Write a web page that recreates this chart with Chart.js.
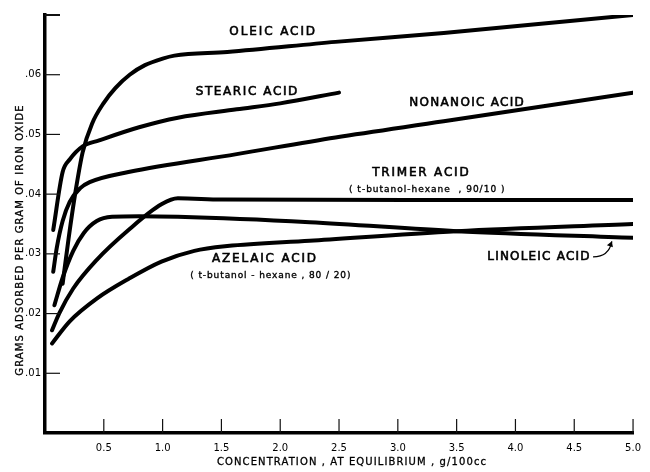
<!DOCTYPE html>
<html>
<head>
<meta charset="utf-8">
<script src="https://cdn.jsdelivr.net/npm/chart.js@4/dist/chart.umd.min.js"></script>
<style>
  html, body { margin: 0; padding: 0; background: #fff; }
  #wrap { width: 650px; height: 472px; }
</style>
</head>
<body>
<div id="wrap"><canvas id="chart"></canvas></div>
<script>
// concentration (g/100cc) vs grams adsorbed per gram of iron oxide
var oleicX = [0.15, 0.2, 0.26, 0.32, 0.4, 0.5, 0.6, 0.72, 0.85, 1.0, 1.1, 1.55, 2.47, 3.39, 5.0];
var oleicY = [0.025, 0.0325, 0.0405, 0.047, 0.0518, 0.0553, 0.0578, 0.060, 0.0616, 0.0627, 0.0632, 0.0638, 0.0655, 0.067, 0.070];

var stearicX = [0.07, 0.15, 0.21, 0.32, 0.46, 0.8, 1.13, 1.63, 2.0, 2.5];
var stearicY = [0.034, 0.0437, 0.0458, 0.048, 0.049, 0.0512, 0.0528, 0.0542, 0.0552, 0.057];

var nonanoicX = [0.07, 0.1, 0.15, 0.21, 0.3, 0.38, 0.71, 1.63, 2.47, 3.39, 5.0];
var nonanoicY = [0.027, 0.031, 0.0355, 0.0387, 0.041, 0.042, 0.0437, 0.0467, 0.0495, 0.0522, 0.057];

var trimerX = [0.06, 0.12, 0.24, 0.44, 0.71, 0.99, 1.13, 1.5, 3.08, 5.0];
var trimerY = [0.0172, 0.020, 0.0242, 0.029, 0.034, 0.0383, 0.0393, 0.0391, 0.039, 0.039];

var linoleicX = [0.08, 0.15, 0.24, 0.33, 0.44, 0.57, 0.8, 1.13, 2.25, 3.5, 5.0];
var linoleicY = [0.0214, 0.026, 0.0305, 0.0335, 0.0355, 0.0362, 0.0363, 0.0362, 0.0353, 0.0338, 0.0327];

var azelaicX = [0.06, 0.21, 0.44, 0.71, 0.99, 1.27, 1.55, 2.25, 3.5, 5.0];
var azelaicY = [0.015, 0.0187, 0.0225, 0.0258, 0.0287, 0.0305, 0.0313, 0.0322, 0.0338, 0.035];

var xTicks = [0.5, 1.0, 1.5, 2.0, 2.5, 3.0, 3.5, 4.0, 4.5, 5.0];
var yTicks = [0.01, 0.02, 0.03, 0.04, 0.05, 0.06, 0.07];

// curve labels, placed in data units
var labels = [
  { text: "OLEIC ACID", x: 1.94, y: 0.0672, size: 12, sp: 1.9 },
  { text: "STEARIC ACID", x: 1.72, y: 0.0572, size: 12, sp: 1.6 },
  { text: "NONANOIC ACID", x: 3.59, y: 0.0553, size: 12, sp: 1.3 },
  { text: "TRIMER ACID", x: 3.2, y: 0.0435, size: 12, sp: 1.8 },
  { text: "( t-butanol-hexane  , 90/10 )", x: 3.25, y: 0.0407, size: 9, sp: 1.0 },
  { text: "AZELAIC ACID", x: 1.87, y: 0.0292, size: 12, sp: 1.8 },
  { text: "( t-butanol - hexane , 80 / 20)", x: 1.92, y: 0.0263, size: 9, sp: 0.9 },
  { text: "LINOLEIC ACID", x: 4.2, y: 0.0295, size: 12, sp: 1.2 }
];

function pts(xs, ys) {
  return xs.map(function(v, i) { return { x: v, y: ys[i] }; });
}

function line(data) {
  return {
    data: data,
    borderColor: "#000",
    borderWidth: 4,
    borderCapStyle: "round",
    pointRadius: 0,
    fill: false,
    cubicInterpolationMode: "monotone"
  };
}

var decor = {
  id: "decor",
  afterDraw: function(chart) {
    var ctx = chart.ctx;
    var xs = chart.scales.x, ys = chart.scales.y;
    var area = chart.chartArea;
    ctx.save();
    ctx.strokeStyle = "#111";
    // inward ticks
    ctx.lineWidth = 1.2;
    xTicks.forEach(function(v) {
      var px = xs.getPixelForValue(v);
      ctx.beginPath();
      ctx.moveTo(px, area.bottom);
      ctx.lineTo(px, area.bottom - 14);
      ctx.stroke();
    });
    yTicks.forEach(function(v) {
      var py = ys.getPixelForValue(v);
      ctx.lineWidth = v > 0.065 ? 2 : 1.2;
      ctx.beginPath();
      ctx.moveTo(area.left, py);
      ctx.lineTo(area.left + 15, py);
      ctx.stroke();
    });

    // curve labels
    ctx.fillStyle = "#000";
    ctx.strokeStyle = "#000";
    ctx.textAlign = "center";
    ctx.textBaseline = "middle";
    labels.forEach(function(l) {
      ctx.font = l.size + "px 'DejaVu Sans'";
      ctx.letterSpacing = l.sp + "px";
      ctx.lineWidth = l.size > 10 ? 0.6 : 0.35;
      var px = xs.getPixelForValue(l.x), py = ys.getPixelForValue(l.y);
      ctx.fillText(l.text, px, py);
      ctx.strokeText(l.text, px, py);
    });

    // arrow from linoleic label to its curve
    var ax = xs.getPixelForValue(4.66), ay = ys.getPixelForValue(0.0295);
    var bx = xs.getPixelForValue(4.82), by = ys.getPixelForValue(0.0321);
    ctx.lineWidth = 1.2;
    ctx.beginPath();
    ctx.moveTo(ax, ay);
    ctx.quadraticCurveTo(bx - 3, ay, bx, by);
    ctx.stroke();
    ctx.beginPath();
    ctx.moveTo(bx, by);
    ctx.lineTo(bx - 5, by + 4);
    ctx.lineTo(bx + 1, by + 6);
    ctx.closePath();
    ctx.fill();

    // axis titles
    ctx.font = "10px 'DejaVu Sans'";
    ctx.lineWidth = 0.3;
    ctx.letterSpacing = "1.1px";
    ctx.fillText("CONCENTRATION , AT EQUILIBRIUM , g/100cc", 352, 462);
    ctx.strokeText("CONCENTRATION , AT EQUILIBRIUM , g/100cc", 352, 462);
    ctx.translate(20, 240);
    ctx.rotate(-Math.PI / 2);
    ctx.letterSpacing = "1.1px";
    ctx.fillText("GRAMS ADSORBED PER GRAM OF IRON OXIDE", 0, 0);
    ctx.strokeText("GRAMS ADSORBED PER GRAM OF IRON OXIDE", 0, 0);
    ctx.restore();
  }
};

new Chart(document.getElementById("chart").getContext("2d"), {
  type: "line",
  data: {
    datasets: [
      line(pts(oleicX, oleicY)),
      line(pts(stearicX, stearicY)),
      line(pts(nonanoicX, nonanoicY)),
      line(pts(trimerX, trimerY)),
      line(pts(linoleicX, linoleicY)),
      line(pts(azelaicX, azelaicY))
    ]
  },
  options: {
    responsive: true,
    maintainAspectRatio: false,
    animation: false,
    layout: { padding: { top: 15, right: 8, left: 0, bottom: 0 } },
    plugins: { legend: { display: false }, tooltip: { enabled: false } },
    scales: {
      x: {
        type: "linear",
        min: 0,
        max: 5,
        afterFit: function(s) { s.height = 39; },
        border: { display: true, color: "#000", width: 3.5 },
        grid: { drawOnChartArea: false, drawTicks: false },
        ticks: {
          stepSize: 0.5,
          padding: 9,
          color: "#000",
          font: { family: "'DejaVu Sans'", size: 10 },
          maxRotation: 0,
          callback: function(v) { return v === 0 ? "" : v.toFixed(1); }
        }
      },
      y: {
        min: 0,
        max: 0.07,
        afterFit: function(s) { s.width = 45; },
        border: { display: true, color: "#000", width: 3.5 },
        grid: { drawOnChartArea: false, drawTicks: false },
        ticks: {
          stepSize: 0.01,
          padding: 4,
          color: "#000",
          font: { family: "'DejaVu Sans'", size: 10 },
          callback: function(v) {
            var n = Math.round(v * 100);
            return (n === 0 || n === 7) ? "" : ".0" + n;
          }
        }
      }
    }
  },
  plugins: [decor]
});
</script>
</body>
</html>
